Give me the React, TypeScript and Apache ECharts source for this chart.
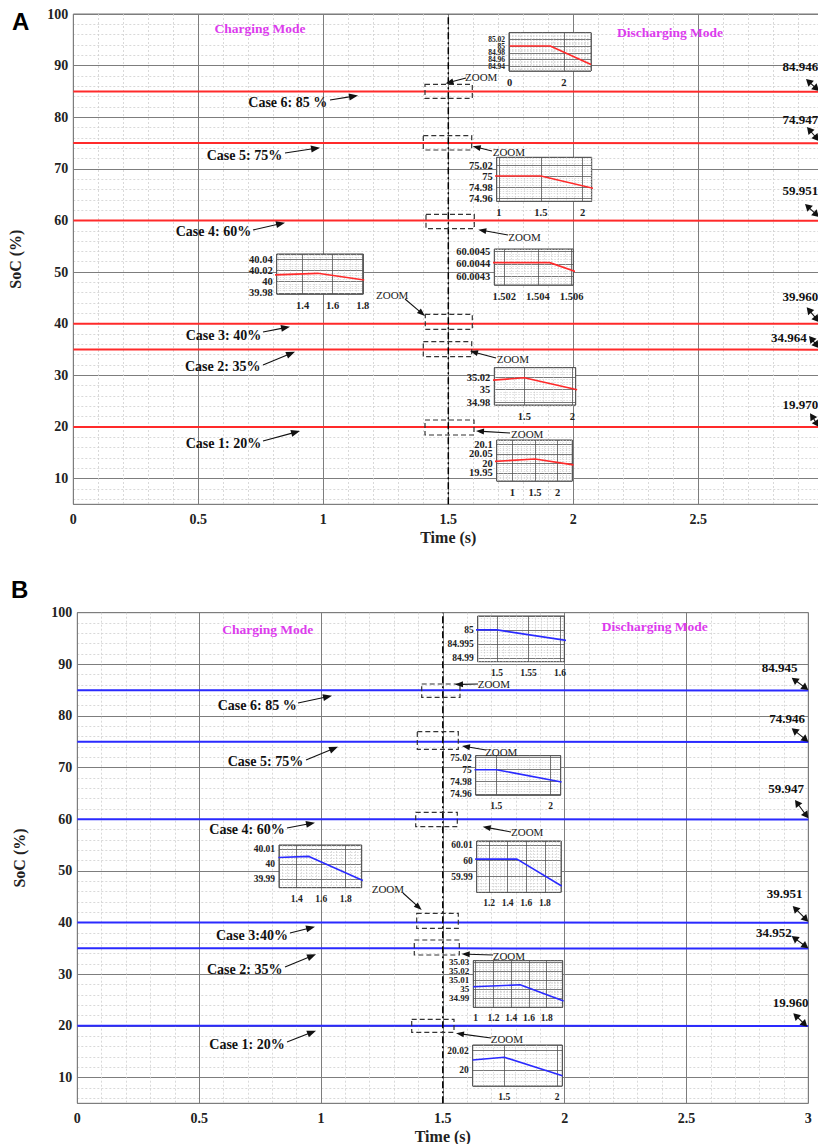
import React, { useEffect, useRef } from 'react';
import * as echarts from 'echarts';

// ---------------- data ----------------
const timeTicks = [0, 1.5, 3]; // start, charging->discharging switch, end (s)
const caseInitial = [20, 35, 40, 60, 75, 85];
const finalSocA = [19.97, 34.964, 39.96, 59.951, 74.947, 84.946];
const finalSocB = [19.96, 34.952, 39.951, 59.947, 74.946, 84.945];
const caseLabelsA = ['Case 1: 20%', 'Case 2: 35%', 'Case 3: 40%', 'Case 4: 60%', 'Case 5: 75%', 'Case 6: 85 %'];
const caseLabelsB = ['Case 1: 20%', 'Case 2: 35%', 'Case 3:40%', 'Case 4: 60%', 'Case 5: 75%', 'Case 6: 85 %'];

// zoomed details (time, SoC)
const zoomA20 = [[0.6, 20.01], [1.5, 20.023], [2.35, 19.992]];
const zoomA35 = [[1.15, 35.015], [1.5, 35.019], [2.05, 35.0]];
const zoomA40 = [[1.2, 40.012], [1.5, 40.015], [1.81, 40.003]];
const zoomA60 = [[1.5, 60.00441], [1.5047, 60.00441], [1.507, 60.0043]];
const zoomA75 = [[0.9, 75], [1.5, 75], [2.2, 74.975]];
const zoomA85 = [[0, 85], [1.5, 85], [3, 84.946]];

const zoomB20 = [[1.2, 20.0104], [1.5, 20.0132], [2.05, 19.994]];
const zoomB35 = [[0.97, 35.0025], [1.5, 35.0047], [1.99, 34.987]];
const zoomB40 = [[1.25, 40.0045], [1.5, 40.0052], [1.94, 39.989]];
const zoomB60 = [[1.05, 60.001], [1.5, 60.001], [1.98, 59.984]];
const zoomB75 = [[1.3, 75], [1.5, 75], [2.1, 74.9797]];
const zoomB85 = [[1.45, 85], [1.5, 85], [1.61, 84.9963]];

// zoom axis ranges: [min, max, step]
const zoomAxesA = [
  { x: [0.657, 2.323, 0.5], y: [19.908, 20.122, 0.05] },
  { x: [1.1875, 2.035, 0.5], y: [34.9757, 35.035, 0.02] },
  { x: [1.227, 1.804, 0.2], y: [39.978, 40.0496, 0.02] },
  { x: [1.50141, 1.5061, 0.002], y: [60.004226, 60.004522, 0.0001] },
  { x: [0.973, 2.107, 0.5], y: [74.954, 75.034, 0.02] },
  { x: [-0.02, 3, 2], y: [84.927, 85.039, 0.02] },
];
const zoomAxesB = [
  { x: [1.202, 2.049, 0.5], y: [19.9834, 20.0259, 0.02] },
  { x: [0.973, 1.98, 0.2], y: [34.98, 35.0312, 0.01] },
  { x: [1.2555, 1.9306, 0.2], y: [39.9841, 40.0129, 0.01] },
  { x: [1.067, 1.973, 0.2], y: [59.98, 60.0125, 0.01] },
  { x: [1.311, 2.092, 0.5], y: [74.958, 75.0232, 0.02] },
  { x: [1.4694, 1.6068, 0.05], y: [84.9888, 85.0049, 0.005] },
];

// ---------------- layout (px) ----------------
const SERIF = '"Liberation Serif", "Times New Roman", Times, serif';
const SANS = '"Liberation Sans", Arial, sans-serif';

const mainBoxA = [73.3, 14, 750, 490.3];
const mainBoxB = [77.3, 612.7, 731, 490.6];

const insetBoxA = [
  [496.7, 440, 75.6, 41],
  [494.3, 367.7, 81.4, 37.3],
  [276.7, 254, 86.6, 40],
  [494.3, 249, 79, 36],
  [496.7, 157.3, 95, 44],
  [509, 32.7, 82, 38.3],
];
const insetBoxB = [
  [472.7, 1045, 89.6, 41],
  [473.3, 960.7, 89.4, 46.6],
  [279, 845, 82.7, 42.7],
  [476.7, 841, 84.3, 51.3],
  [475.7, 755.7, 85, 39.3],
  [477.7, 616, 86.6, 45.7],
];
// inset label font sizes [x, y]
const insetFontA = [[10.5, 10.5], [10.5, 10.5], [10.5, 10.5], [10.5, 10.5], [10.5, 10.5], [10.5, 7.5]];
const insetFontB = [[9.5, 9.5], [9.5, 9], [9.5, 9.5], [9.5, 9.5], [9.5, 9.5], [9.5, 9.5]];

const caseTextA = [[185.7, 443.3], [185, 366.7], [185.7, 335.7], [175.7, 231.7], [206.7, 155], [248.3, 102]];
const caseArrowA = [[263, 441, 300, 431], [263, 365, 295, 351.7], [263, 332, 290, 326.7], [253, 230, 285, 222.7], [285, 153, 320, 147.7], [330, 100, 358, 95.5]];
const caseTextB = [[209.3, 1044.3], [207, 969.3], [216, 935], [209.3, 829.3], [227.7, 761.7], [217.7, 705]];
const caseArrowB = [[287, 1042, 316, 1030.7], [285, 967, 316, 954.3], [290, 933, 315, 926.7], [287, 828, 315, 822.7], [306, 760, 338, 746.7], [298, 703, 332, 695.7]];

const zoomRectA = [[425, 420, 474, 435], [423.3, 341.7, 471.7, 356.7], [425.3, 314.3, 472.3, 329.3], [426, 214.3, 474.3, 228.7], [423.3, 135.7, 471.7, 150], [425, 84.3, 472.3, 98.3]];
const zoomTextA = [[511, 434.3], [496.7, 359], [376, 295], [508.3, 236.7], [492.7, 151.7], [465, 77]];
const zoomArrowA = [[510, 433, 476, 431], [496, 358, 470, 351], [405, 299, 425, 316], [508, 235, 478.3, 229.7], [492, 151, 472.7, 146.3], [466, 78, 445.5, 83.5]];
const zoomRectB = [[411.7, 1019.3, 454, 1032.3], [414.3, 940, 459.3, 955], [416.7, 913.3, 458.3, 928.3], [415.7, 812.3, 457.3, 826.7], [417.3, 731.7, 458.3, 749.3], [421.7, 684, 460, 697.3]];
const zoomTextB = [[490.7, 1039], [492.7, 956], [371.7, 889.3], [511, 832.3], [485, 751.7], [477.7, 684]];
const zoomArrowB = [[491, 1038, 456, 1033.3], [493, 955, 461.7, 954], [403, 893, 421.7, 910], [511, 832, 482.7, 826.7], [486, 750, 462, 746], [478, 684, 455, 684.5]];

const finalTextA = [[782.5, 404.3], [771, 337.7], [782.5, 296.7], [782.5, 190.7], [782.5, 119.7], [782.5, 66]];
const finalArrowA = [[810, 413.3, 819, 427], [809, 336, 819, 348], [806.7, 307.3, 819, 322], [805, 204, 819, 217], [807, 127, 819, 141], [806, 79, 819, 91]];
const finalTextB = [[772.7, 1002.3], [756, 932.3], [766.7, 893.3], [768.3, 788.3], [769.3, 718], [761.7, 667.3]];
const finalArrowB = [[793.3, 1013.3, 807.3, 1026.7], [791.7, 936, 808.3, 948.3], [792.7, 906, 808.3, 921.7], [795, 800, 808.3, 818.3], [791.7, 728.3, 808.3, 741.7], [791.7, 677.7, 808.3, 690]];

const modeTextA = [[260, 28], [670, 32]];
const modeTextB = [[267.7, 629], [654.7, 626.7]];

const RED = '#ff2a2a';
const BLUE = '#2a2aff';
const MAGENTA = '#dc3ced';

// ---------------- helpers ----------------
function arrow(x1: number, y1: number, x2: number, y2: number, both = false, len = 8, half = 3) {
  const dx = x2 - x1, dy = y2 - y1;
  const d = Math.hypot(dx, dy) || 1;
  const ux = dx / d, uy = dy / d;
  const head = (tx: number, ty: number, sx: number, sy: number) => {
    const bx = tx - sx * len, by = ty - sy * len;
    return {
      type: 'polygon',
      shape: { points: [[tx, ty], [bx - sy * half, by + sx * half], [bx + sy * half, by - sx * half]] },
      style: { fill: '#111' },
    };
  };
  const els: any[] = [];
  const sx = both ? x1 + ux * len * 0.8 : x1;
  const sy = both ? y1 + uy * len * 0.8 : y1;
  els.push({ type: 'line', shape: { x1: sx, y1: sy, x2: x2 - ux * len * 0.8, y2: y2 - uy * len * 0.8 }, style: { stroke: '#111', lineWidth: 1.1 } });
  els.push(head(x2, y2, ux, uy));
  if (both) els.push(head(x1, y1, -ux, -uy));
  return els;
}

function text(x: number, y: number, t: string, font: string, fill = '#111', align = 'left') {
  return { type: 'text', x, y, style: { text: t, font, fill, textAlign: align, verticalAlign: 'middle' } };
}

function buildOption() {
  const grid: any[] = [];
  const xAxis: any[] = [];
  const yAxis: any[] = [];
  const series: any[] = [];

  const mainAxis = (gi: number, box: number[], showLastX: boolean) => {
    grid.push({
      left: box[0], top: box[1], width: box[2], height: box[3],
      show: true, backgroundColor: '#fff', borderColor: '#777', borderWidth: 1,
      containLabel: false, outerBoundsMode: 'none', z: 0,
    });
    const lbl = { fontFamily: SERIF, fontWeight: 'bold', fontSize: 14, color: '#222' };
    xAxis.push({
      gridIndex: gi, type: 'value', min: timeTicks[0], max: timeTicks[2], interval: 0.5,
      name: 'Time (s)', nameLocation: 'middle', nameGap: 25,
      nameTextStyle: { fontFamily: SERIF, fontWeight: 'bold', fontSize: 16, color: '#222' },
      axisLine: { show: false }, axisTick: { show: false },
      axisLabel: { ...lbl, margin: 8, showMaxLabel: showLastX },
      splitLine: { show: true, lineStyle: { color: '#7d7d7d', width: 1 } },
      minorTick: { show: false, splitNumber: 5 },
      minorSplitLine: { show: true, lineStyle: { color: '#cfcfcf', width: 0.8, type: [2, 2] } },
      z: 0,
    });
    yAxis.push({
      gridIndex: gi, type: 'value', min: 5, max: 100, minInterval: 10, maxInterval: 10,
      name: 'SoC (%)', nameLocation: 'middle', nameGap: 50, nameRotate: 90,
      nameTextStyle: { fontFamily: SERIF, fontWeight: 'bold', fontSize: 16, color: '#222' },
      axisLine: { show: false }, axisTick: { show: false },
      axisLabel: { ...lbl, margin: 5, showMinLabel: false, showMaxLabel: true },
      splitLine: { show: true, lineStyle: { color: '#7d7d7d', width: 1 } },
      minorTick: { show: false, splitNumber: 5 },
      minorSplitLine: { show: true, lineStyle: { color: '#cfcfcf', width: 0.8, type: [2, 2] } },
      z: 0,
    });
  };

  const insetAxis = (gi: number, box: number[], ax: any, fs: number[]) => {
    grid.push({
      left: box[0], top: box[1], width: box[2], height: box[3],
      show: true, backgroundColor: '#fff', borderColor: '#444', borderWidth: 1,
      containLabel: false, outerBoundsMode: 'none', z: 3,
    });
    const common = {
      gridIndex: gi, type: 'value', z: 4,
      axisLine: { show: false }, axisTick: { show: false },
      splitLine: { show: true, lineStyle: { color: '#555', width: 0.8 } },
      minorTick: { show: false, splitNumber: 5 },
      minorSplitLine: { show: true, lineStyle: { color: '#c4c4c4', width: 0.6, type: [1.5, 1.5] } },
    };
    const lbl = { fontFamily: SERIF, fontWeight: 'bold', color: '#222', showMinLabel: false, showMaxLabel: false };
    xAxis.push({ ...common, min: ax.x[0], max: ax.x[1], minInterval: ax.x[2], maxInterval: ax.x[2], axisLabel: { ...lbl, fontSize: fs[0], margin: 6 } });
    yAxis.push({ ...common, min: ax.y[0], max: ax.y[1], minInterval: ax.y[2], maxInterval: ax.y[2], axisLabel: { ...lbl, fontSize: fs[1], margin: 4 } });
  };

  mainAxis(0, mainBoxA, false);
  mainAxis(1, mainBoxB, true);

  const mainLines = (gi: number, finals: number[], color: string) => {
    caseInitial.forEach((s0, i) => {
      series.push({
        type: 'line', xAxisIndex: gi, yAxisIndex: gi, symbol: 'none', animation: false, z: 2,
        lineStyle: { color, width: 2 },
        data: [[timeTicks[0], s0], [timeTicks[1], s0], [timeTicks[2], finals[i]]],
      });
    });
    series.push({
      type: 'line', xAxisIndex: gi, yAxisIndex: gi, symbol: 'none', animation: false, z: 3,
      lineStyle: { color: '#000', width: 1.5, type: [7, 3, 2, 3] },
      data: [[timeTicks[1], 5], [timeTicks[1], 100]],
    });
  };
  mainLines(0, finalSocA, RED);
  mainLines(1, finalSocB, BLUE);

  const zoomDataA = [zoomA20, zoomA35, zoomA40, zoomA60, zoomA75, zoomA85];
  const zoomDataB = [zoomB20, zoomB35, zoomB40, zoomB60, zoomB75, zoomB85];
  let gi = 2;
  zoomDataA.forEach((d, i) => {
    insetAxis(gi, insetBoxA[i], zoomAxesA[i], insetFontA[i]);
    series.push({ type: 'line', xAxisIndex: gi, yAxisIndex: gi, symbol: 'none', z: 5, lineStyle: { color: RED, width: 1.6 }, data: d });
    gi++;
  });
  zoomDataB.forEach((d, i) => {
    insetAxis(gi, insetBoxB[i], zoomAxesB[i], insetFontB[i]);
    series.push({ type: 'line', xAxisIndex: gi, yAxisIndex: gi, symbol: 'none', z: 5, lineStyle: { color: BLUE, width: 1.6 }, data: d });
    gi++;
  });

  // annotations
  const els: any[] = [];
  els.push(text(12, 21, 'A', `bold 24px ${SANS}`, '#000'));
  els.push(text(11, 589, 'B', `bold 24px ${SANS}`, '#000'));
  const panel = (caseLabels: string[], caseText: number[][], caseArrow: number[][], zRect: number[][], zText: number[][], zArrow: number[][], finals: number[], fText: number[][], fArrow: number[][], modeText: number[][]) => {
    els.push(text(modeText[0][0], modeText[0][1], 'Charging Mode', `bold 13.5px ${SERIF}`, MAGENTA, 'center'));
    els.push(text(modeText[1][0], modeText[1][1], 'Discharging Mode', `bold 13.5px ${SERIF}`, MAGENTA, 'center'));
    caseLabels.forEach((lab, i) => {
      els.push(text(caseText[i][0], caseText[i][1], lab, `bold 14px ${SERIF}`, '#111'));
      const a = caseArrow[i];
      els.push(...arrow(a[0], a[1], a[2], a[3], false, 9, 3.5));
      const r = zRect[i];
      els.push({ type: 'rect', shape: { x: r[0], y: r[1], width: r[2] - r[0], height: r[3] - r[1] }, style: { fill: 'none', stroke: '#333', lineWidth: 1.2, lineDash: [5, 3] } });
      els.push(text(zText[i][0], zText[i][1], 'ZOOM', `11px ${SERIF}`, '#222'));
      const za = zArrow[i];
      els.push(...arrow(za[0], za[1], za[2], za[3], false, 8, 3));
      els.push(text(fText[i][0], fText[i][1], finals[i].toFixed(3), `bold 13px ${SERIF}`, '#111'));
      const fa = fArrow[i];
      els.push(...arrow(fa[0], fa[1], fa[2], fa[3], true, 7, 4));
    });
  };
  panel(caseLabelsA, caseTextA, caseArrowA, zoomRectA, zoomTextA, zoomArrowA, finalSocA, finalTextA, finalArrowA, modeTextA);
  panel(caseLabelsB, caseTextB, caseArrowB, zoomRectB, zoomTextB, zoomArrowB, finalSocB, finalTextB, finalArrowB, modeTextB);

  return {
    animation: false,
    backgroundColor: '#fff',
    textStyle: { fontFamily: SERIF },
    grid, xAxis, yAxis, series,
    graphic: { elements: els.map((e) => ({ ...e, z: 20 })) },
  };
}

export default function App() {
  const ref = useRef<HTMLDivElement>(null);
  useEffect(() => {
    if (!ref.current) return;
    const chart = echarts.init(ref.current, undefined, { renderer: 'svg' });
    chart.setOption(buildOption() as any);
    return () => chart.dispose();
  }, []);
  return <div ref={ref} style={{ position: 'absolute', left: 0, top: 0, width: 818, height: 1144 }} />;
}
